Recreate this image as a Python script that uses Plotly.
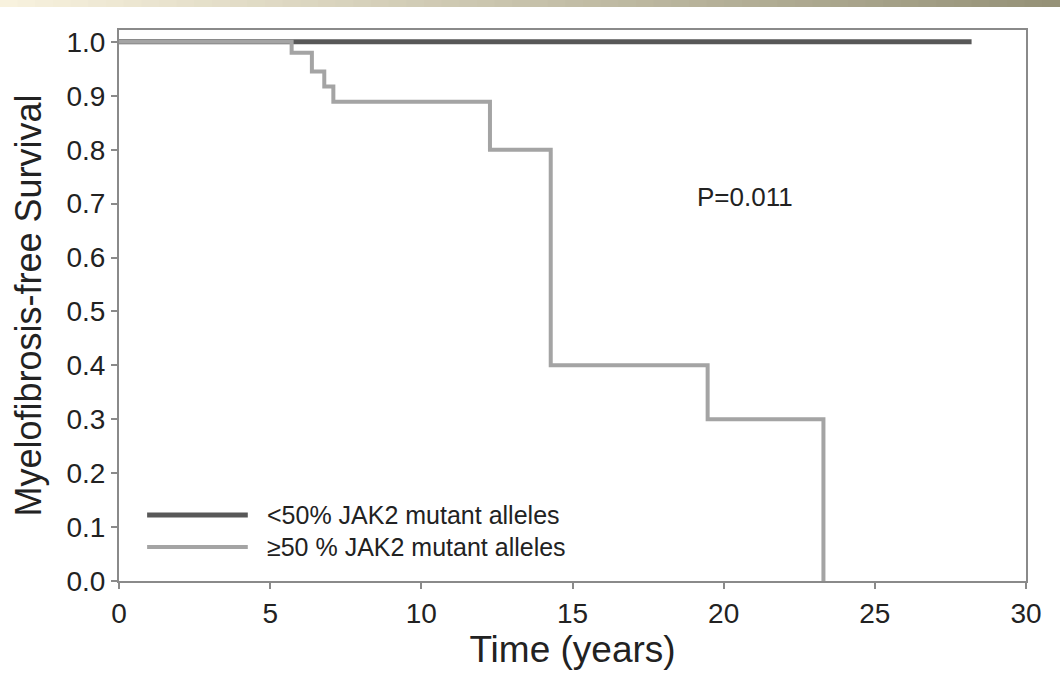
import plotly.graph_objects as go

# Kaplan-Meier step data
low_t = [0, 28.2]
low_s = [1.0, 1.0]

high_t = [0, 5.71, 6.38, 6.79, 7.09, 12.27, 14.28, 19.47, 23.3]
high_s = [1.0, 0.98, 0.945, 0.917, 0.889, 0.80, 0.40, 0.30, 0.0]

series_names = ["<50% JAK2 mutant alleles", "\u226550 % JAK2 mutant alleles"]
x_ticks = [0, 5, 10, 15, 20, 25, 30]
y_ticks = [0.0, 0.1, 0.2, 0.3, 0.4, 0.5, 0.6, 0.7, 0.8, 0.9, 1.0]
p_text = "P=0.011"

DARK = "#585858"
GRAY = "#a4a4a4"
TXT = "#222222"
FONT = "Liberation Sans, Arial, sans-serif"

fig = go.Figure()
fig.add_trace(go.Scatter(x=low_t, y=low_s, mode="lines", line=dict(color=DARK, width=5, shape="hv"),
                         name=series_names[0], showlegend=False))
fig.add_trace(go.Scatter(x=high_t, y=high_s, mode="lines", line=dict(color=GRAY, width=4, shape="hv"),
                         name=series_names[1], showlegend=False))

shapes = []
# top gradient band
c0 = (248, 242, 222)
c1 = (150, 146, 120)
n = 60
for i in range(n):
    f = i / (n - 1)
    col = tuple(int(c0[k] + (c1[k] - c0[k]) * f) for k in range(3))
    shapes.append(dict(type="rect", xref="paper", yref="paper",
                       x0=-119/907 + i * (1060/907) / n, x1=-119/907 + (i + 1.05) * (1060/907) / n,
                       y0=1 + 23/551, y1=1 + 30/551, line=dict(width=0),
                       fillcolor="rgb(%d,%d,%d)" % col, layer="above"))
# legend lines
for yy, col, w in [(0.1198, DARK, 5), (0.0617, GRAY, 4)]:
    shapes.append(dict(type="line", xref="paper", yref="paper", x0=0.031, x1=0.142, y0=yy, y1=yy,
                       line=dict(color=col, width=w)))

annotations = [
    dict(xref="paper", yref="paper", x=0.161, y=0.1198, text=series_names[0], showarrow=False,
         xanchor="left", yanchor="middle", font=dict(family=FONT, size=25, color=TXT)),
    dict(xref="paper", yref="paper", x=0.161, y=0.0617, text=series_names[1], showarrow=False,
         xanchor="left", yanchor="middle", font=dict(family=FONT, size=25, color=TXT)),
    dict(x=20.7, y=0.712, text=p_text, showarrow=False, xanchor="center", yanchor="middle",
         font=dict(family=FONT, size=26, color=TXT)),
]

fig.update_layout(
    width=1060, height=677,
    margin=dict(l=119, r=34, t=30, b=96),
    paper_bgcolor="white", plot_bgcolor="white",
    font=dict(family=FONT, color=TXT),
    shapes=shapes, annotations=annotations,
    showlegend=False,
)
fig.update_xaxes(range=[0, 30], tickvals=x_ticks, ticktext=[str(v) for v in x_ticks],
                 showgrid=False, zeroline=False, showline=True, linecolor="#8a8a8a", linewidth=2,
                 mirror=True, ticks="outside", ticklen=6, tickcolor="#8a8a8a", tickwidth=1.5,
                 tickfont=dict(size=28), title=dict(text="Time (years)", font=dict(size=37), standoff=4))
fig.update_yaxes(range=[0, 1.022], tickvals=y_ticks, ticktext=["%.1f" % v for v in y_ticks],
                 showgrid=False, zeroline=False, showline=True, linecolor="#8a8a8a", linewidth=2,
                 mirror=True, ticks="outside", ticklen=6, tickcolor="#8a8a8a", tickwidth=1.5,
                 tickfont=dict(size=28), title=dict(text="Myelofibrosis-free Survival", font=dict(size=36), standoff=14))

fig.write_html("out.html")
